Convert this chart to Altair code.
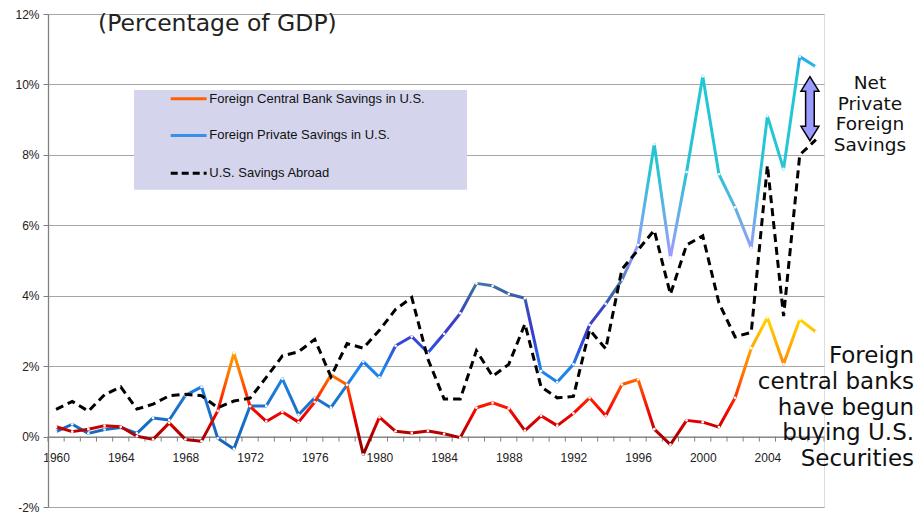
import altair as alt
import pandas as pd

# ---------------- data ----------------
years = list(range(1960, 2008))

central_bank = [0.28, 0.14, 0.21, 0.31, 0.28, 0.01, -0.08, 0.39, -0.08, -0.13,
                0.73, 2.37, 0.86, 0.43, 0.70, 0.41, 0.98, 1.75, 1.47, -0.51,
                0.55, 0.15, 0.10, 0.16, 0.08, -0.03, 0.82, 0.96, 0.80, 0.17,
                0.59, 0.31, 0.66, 1.10, 0.59, 1.48, 1.62, 0.21, -0.23, 0.46,
                0.41, 0.27, 1.10, 2.51, 3.38, 2.06, 3.33, 2.97]

private = [0.14, 0.35, 0.09, 0.20, 0.26, 0.09, 0.53, 0.47, 1.17, 1.41,
           -0.05, -0.35, 0.87, 0.87, 1.64, 0.62, 1.10, 0.82, 1.47, 2.13,
           1.68, 2.58, 2.84, 2.38, 2.92, 3.50, 4.35, 4.28, 4.05, 3.93,
           1.86, 1.55, 2.05, 3.17, 3.77, 4.45, 5.44, 8.30, 5.09, 7.51,
           10.23, 7.45, 6.51, 5.36, 9.10, 7.60, 10.79, 10.50]

us_abroad = [0.77, 1.00, 0.72, 1.19, 1.41, 0.78, 0.92, 1.16, 1.20, 1.16,
             0.82, 1.01, 1.09, 1.68, 2.29, 2.41, 2.76, 1.70, 2.64, 2.51,
             3.02, 3.61, 3.95, 2.20, 1.07, 1.07, 2.44, 1.71, 2.05, 3.20,
             1.41, 1.10, 1.14, 3.03, 2.49, 4.75, 5.30, 5.86, 4.04, 5.44,
             5.70, 3.80, 2.83, 2.96, 7.70, 3.42, 8.00, 8.43]

y_ticks = [-2, 0, 2, 4, 6, 8, 10, 12]
x_labels = list(range(1960, 2005, 4))
legend_labels = ["Foreign Central Bank Savings in U.S.",
                 "Foreign Private Savings in U.S.",
                 "U.S. Savings Abroad"]
title_text = "(Percentage of GDP)"
note_net = "Net\nPrivate\nForeign\nSavings"
note_cb = "Foreign\ncentral banks\nhave begun\nbuying U.S.\nSecurities"

# ---------------- layout / style ----------------
W, H = 776, 493
AXIS_FONT = "Liberation Sans"
TEXT_FONT = "DejaVu Sans"

x_scale = alt.Scale(domain=[1959.5, 2007.5], nice=False, zero=False)
y_scale = alt.Scale(domain=[-2, 12], nice=False, zero=False)

x_axis = alt.Axis(
    values=x_labels, format="d", labelFlush=False, labelOverlap=False,
    offset=-70.4, grid=False, title=None, ticks=False,
    domainColor="#808080", domainWidth=1.3,
    labelFont=AXIS_FONT, labelFontSize=12, labelColor="#222222", labelPadding=16,
)
y_axis = alt.Axis(
    values=y_ticks, labelExpr="datum.value + '%'", grid=True, title=None,
    gridColor="#a6a6a6", gridWidth=1.2, domainColor="#808080", domainWidth=1.3,
    tickColor="#808080", tickSize=5, labelFont=AXIS_FONT, labelFontSize=12,
    labelColor="#222222", labelPadding=4,
)

X = alt.X("x:Q", scale=x_scale, axis=x_axis)
Y = alt.Y("y:Q", scale=y_scale, axis=y_axis)


def gradient(stops, vals):
    vmin, vmax = min(vals), max(vals)
    out = []
    for v, c in stops:
        off = (v - vmin) / (vmax - vmin)
        out.append(alt.GradientStop(color=c, offset=max(0.0, min(1.0, off))))
    return alt.Gradient(gradient="linear", x1=0, x2=0, y1=1, y2=0, stops=out)


cb_grad = gradient([(-0.5, "#8b0000"), (0.05, "#b00000"), (0.6, "#f00000"),
                    (1.1, "#ff2a00"), (1.7, "#ff6e00"), (2.4, "#ffa000"),
                    (3.3, "#ffd200")], central_bank)
pr_grad = gradient([(-0.4, "#1565b8"), (1.0, "#1a74d0"), (1.9, "#1e88ee"),
                    (2.5, "#3050e0"), (3.0, "#3a38d0"), (3.6, "#3a48c0"),
                    (4.2, "#386c9c"), (4.6, "#5a80c8"), (5.2, "#9c9cff"),
                    (6.2, "#6aaee8"), (7.5, "#28c4d4"), (10.2, "#20c8d4"),
                    (10.8, "#28a8f0")], private)

df_cb = pd.DataFrame({"x": years, "y": central_bank})
df_pr = pd.DataFrame({"x": years, "y": private})
df_us = pd.DataFrame({"x": years, "y": us_abroad})

# category-boundary tick marks hanging below the 0% line
df_ticks = pd.DataFrame({"x": [y - 0.5 for y in years] + [years[-1] + 0.5],
                         "y": [0.0] * (len(years) + 1)})
ticks = alt.Chart(df_ticks).mark_rule(color="#808080", strokeWidth=1, y2Offset=5).encode(
    x=X, y=Y, y2=alt.Y2("y"))

pr_line = alt.Chart(df_pr).mark_line(color=pr_grad, strokeWidth=3, strokeJoin="round").encode(x=X, y=Y)
pr_pts = alt.Chart(df_pr).mark_point(filled=True, color="white", size=7, opacity=1).encode(x=X, y=Y)
cb_line = alt.Chart(df_cb).mark_line(color=cb_grad, strokeWidth=3, strokeJoin="round").encode(x=X, y=Y)
cb_pts = alt.Chart(df_cb).mark_point(filled=True, color="white", size=7, opacity=1).encode(x=X, y=Y)
us_line = alt.Chart(df_us).mark_line(color="black", strokeWidth=3, strokeDash=[8, 5]).encode(x=X, y=Y)

# ---------------- legend box ----------------
df_box = pd.DataFrame({"x": [1964.82], "x2": [1985.42], "y": [7.01], "y2": [9.84]})
box = alt.Chart(df_box).mark_rect(color="#d4d5ec").encode(
    x=X, x2=alt.X2("x2"), y=Y, y2=alt.Y2("y2"))

leg_y = [9.59, 8.55, 7.48]
df_leg = pd.DataFrame({"x": [1967.09] * 3, "x2": [1969.31] * 3, "y": leg_y,
                       "tx": [1969.48] * 3, "label": legend_labels})
leg_cb = alt.Chart(df_leg.iloc[[0]]).mark_rule(color="#ff6000", strokeWidth=3).encode(x=X, x2=alt.X2("x2"), y=Y)
leg_pr = alt.Chart(df_leg.iloc[[1]]).mark_rule(color="#3a8ee6", strokeWidth=3).encode(x=X, x2=alt.X2("x2"), y=Y)
leg_us = alt.Chart(df_leg.iloc[[2]]).mark_rule(color="black", strokeWidth=3, strokeDash=[7, 4]).encode(x=X, x2=alt.X2("x2"), y=Y)
leg_txt = alt.Chart(df_leg).mark_text(align="left", baseline="middle", font=AXIS_FONT,
                                      fontSize=13, color="#111111").encode(
    x=alt.X("tx:Q", scale=x_scale, axis=x_axis), y=Y, text="label:N")

# ---------------- annotations ----------------
df_title = pd.DataFrame({"x": [1962.6], "y": [11.52], "t": [title_text]})
title = alt.Chart(df_title).mark_text(align="left", baseline="alphabetic", font=TEXT_FONT,
                                      fontSize=23.5, color="#222222").encode(x=X, y=Y, text="t:N")

df_net = pd.DataFrame({"x": [2010.34], "y": [9.875], "t": [note_net]})
net = alt.Chart(df_net).mark_text(align="center", baseline="alphabetic", font=TEXT_FONT,
                                  fontSize=18.5, lineHeight=20.7, lineBreak="\n",
                                  color="#111111").encode(x=X, y=Y, text="t:N")

df_note = pd.DataFrame({"x": [2013.07], "y": [2.08], "t": [note_cb]})
note = alt.Chart(df_note).mark_text(align="right", baseline="alphabetic", font=TEXT_FONT,
                                    fontSize=23, lineHeight=25.6, lineBreak="\n",
                                    color="#111111").encode(x=X, y=Y, text="t:N")

arrow_path = ("M0,-1 L0.28,-0.55 L0.135,-0.55 L0.135,0.55 L0.28,0.55 L0,1 "
              "L-0.28,0.55 L-0.135,0.55 L-0.135,-0.55 L-0.28,-0.55 Z")
df_arrow = pd.DataFrame({"x": [2006.63], "y": [9.31]})
arrow = alt.Chart(df_arrow).mark_point(shape=arrow_path, size=4096, filled=True,
                                       fill="#9b9bff", stroke="black", strokeWidth=1.5,
                                       opacity=1).encode(x=X, y=Y)

chart = alt.layer(
    box, leg_cb, leg_pr, leg_us, leg_txt, ticks,
    pr_line, pr_pts, cb_line, cb_pts, us_line,
    title, net, note, arrow,
).properties(
    width=W, height=H,
    autosize=alt.AutoSizeParams(type="none"),
    padding={"left": 40, "top": 6, "right": 91, "bottom": 5},
).configure_view(stroke=None).configure(background="white")

chart.save("out.html", embed_options={"renderer": "svg", "actions": False})
